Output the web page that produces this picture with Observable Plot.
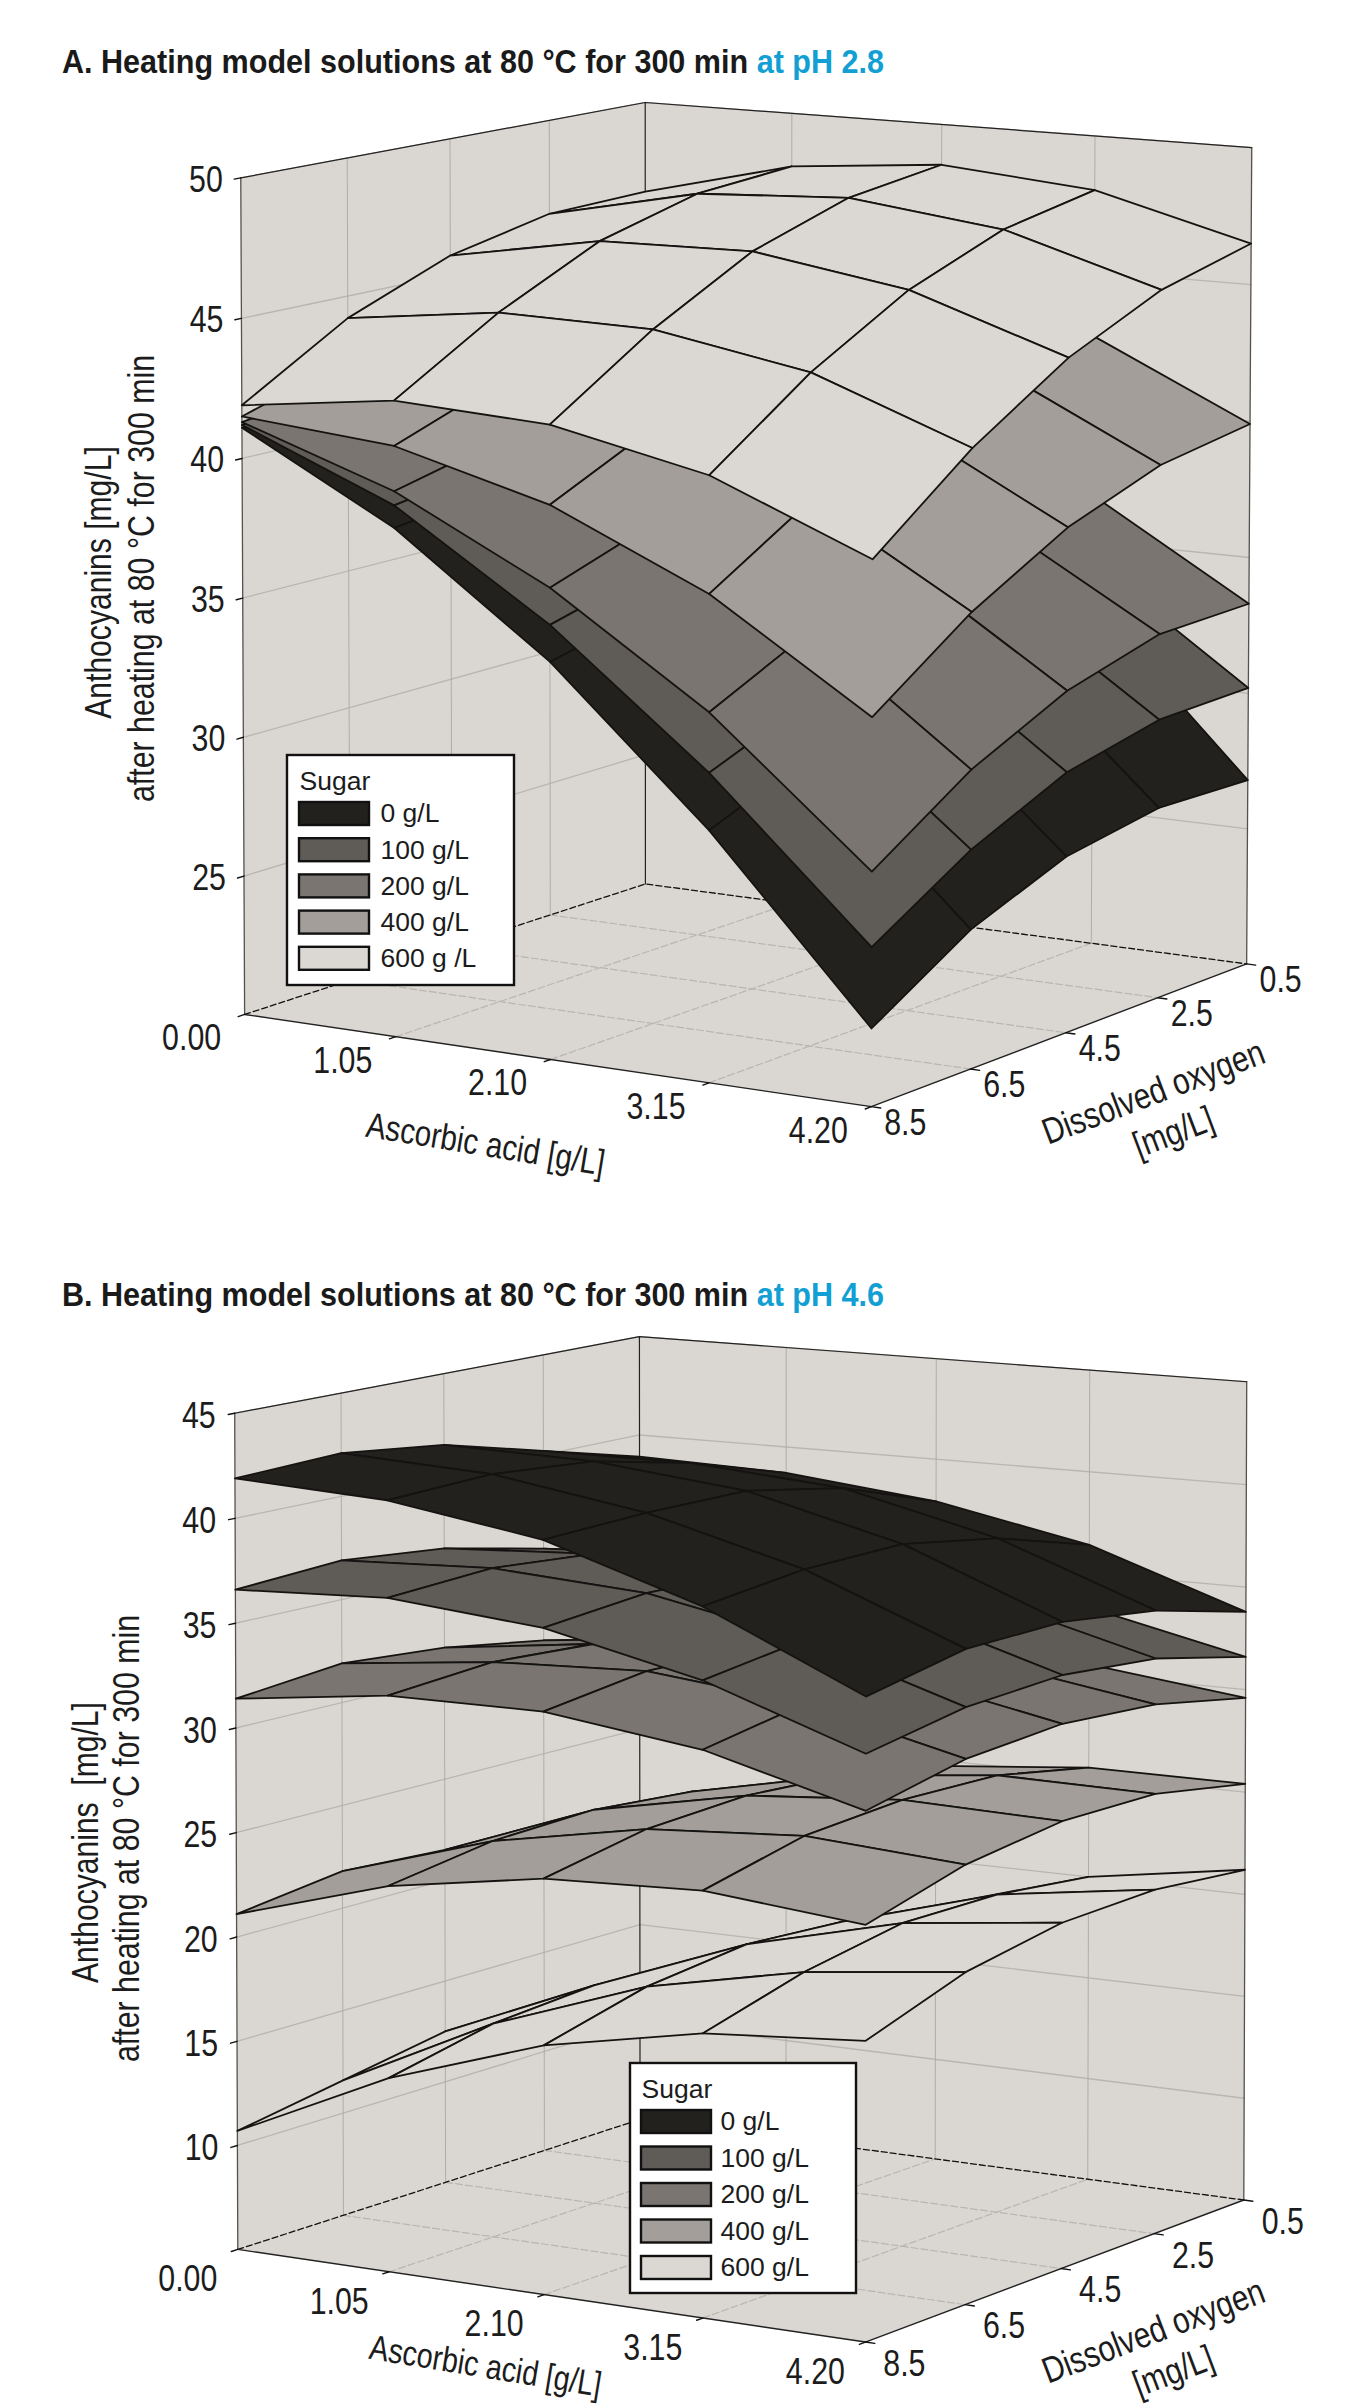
<!DOCTYPE html>
<html><head><meta charset="utf-8">
<script src="https://cdn.jsdelivr.net/npm/d3@7"></script>
<script src="https://cdn.jsdelivr.net/npm/@observablehq/plot@0.6"></script>
<style>
html,body{margin:0;padding:0;background:#fff;overflow:hidden}
#page{position:relative;width:1348px;height:2408px;overflow:hidden}
.title{position:absolute;left:62px;font:bold 34px "Liberation Sans",Arial,sans-serif;color:#1a1a1a;white-space:pre;transform-origin:0 50%}
.title span{color:#129fd3}
svg{position:absolute;left:0;display:block}
</style></head><body><div id="page"></div>
<script>
// axis values
const ascorbicTicks = [0, 1.05, 2.10, 3.15, 4.20];
const oxygenTicks = [8.5, 6.5, 4.5, 2.5, 0.5];
const sugarLabelsA = ["0 g/L", "100 g/L", "200 g/L", "400 g/L", "600 g /L"];
const sugarLabelsB = ["0 g/L", "100 g/L", "200 g/L", "400 g/L", "600 g/L"];
const sugarColors = ["#22211d", "#5f5b57", "#7a7570", "#a39e99", "#dbd7d2"];
const zTicksA = [25, 30, 35, 40, 45, 50];
const zTicksB = [10, 15, 20, 25, 30, 35, 40, 45];

// Surfaces: rows follow ascorbicTicks, columns follow oxygenTicks
const phA_0 = [
 [41.1,41.3,41.5,41.7,41.8],[38.1,38.6,39.0,39.3,39.4],[34.0,34.9,35.6,36.0,36.2],
 [28.8,30.3,31.4,32.2,32.6],[22.7,24.9,26.3,26.9,26.8]];
const phA_100 = [
 [41.2,41.5,41.8,42.0,42.1],[38.9,39.5,40.0,40.3,40.4],[35.3,36.3,37.1,37.5,37.7],
 [30.8,32.3,33.4,34.0,34.2],[25.5,27.7,29.3,30.1,30.2]];
const phA_200 = [
 [41.3,41.8,42.2,42.5,42.6],[39.4,40.3,41.0,41.4,41.6],[36.6,37.9,38.8,39.3,39.5],
 [32.9,34.7,35.9,36.5,36.7],[28.1,30.5,32.2,33.2,33.3]];
const phA_400 = [
 [41.5,42.7,43.6,44.2,44.4],[41.0,42.4,43.5,44.2,44.6],[39.5,41.3,42.7,43.6,44.0],
 [37.0,39.3,41.0,42.1,42.6],[33.4,36.0,38.0,39.3,39.9]];
const phA_600 = [
 [41.9,44.2,45.7,46.5,46.6],[42.6,44.9,46.7,47.7,48.0],[42.3,44.8,46.8,48.0,48.5],
 [41.1,43.8,45.9,47.3,48.0],[38.8,41.7,44.0,45.6,46.5]];

const phB_0 = [
 [41.9,42.1,41.5,40.2,38.9],[41.5,41.7,41.3,40.2,38.7],[40.3,40.5,40.5,39.6,37.9],
 [37.9,38.5,38.6,37.8,36.4],[34.5,35.5,35.6,35.0,33.8]];
const phB_100 = [
 [36.6,36.9,36.4,35.3,34.0],[36.9,37.2,36.8,35.7,34.2],[36.2,36.7,36.6,35.7,34.2],
 [34.5,35.2,35.4,34.7,33.3],[31.9,32.8,33.1,32.7,31.6]];
const phB_200 = [
 [31.4,31.9,31.5,30.7,29.6],[32.3,32.7,32.4,31.5,30.3],[32.3,33.0,32.9,32.1,30.8],
 [31.3,32.2,32.3,31.7,30.5],[29.3,30.4,30.8,30.5,29.6]];
const phB_400 = [
 [21.1,21.8,21.5,21.3,21.2],[23.3,24.1,24.3,23.9,23.0],[24.5,25.5,25.8,25.5,24.7],
 [24.8,26.0,26.4,26.3,25.4],[24.1,25.5,26.2,26.2,25.4]];
const phB_600 = [
 [10.7,11.6,12.5,12.3,12.0],[14.2,15.3,15.7,15.3,14.9],[16.7,18.0,18.6,18.3,17.7],
 [18.2,19.6,20.5,20.5,20.0],[18.8,20.5,21.4,21.6,21.2]];

// Camera calibration: where the corners of the data cube fall on the SVG
function solveCamera(anchors){
  const rows=[], rhs=[];
  for (const [u,v,w,x,y] of anchors){
    const X=x/1000, Y=y/1000;
    rows.push([u,v,w,1,0,0,0,0,-X*u,-X*v,-X*w]); rhs.push(X);
    rows.push([0,0,0,0,u,v,w,1,-Y*u,-Y*v,-Y*w]); rhs.push(Y);
  }
  const n=11, M=d3.range(n).map(i=>d3.range(n+1).map(j=>
    d3.sum(rows,(r,k)=>r[i]*(j<n?r[j]:rhs[k]))));
  for(let c=0;c<n;c++){
    let p=c; for(let r=c+1;r<n;r++) if(Math.abs(M[r][c])>Math.abs(M[p][c])) p=r;
    [M[c],M[p]]=[M[p],M[c]];
    for(let r=0;r<n;r++) if(r!==c){const f=M[r][c]/M[c][c]; for(let k=c;k<=n;k++) M[r][k]-=f*M[c][k];}
  }
  const h=M.map((r,i)=>r[n]/r[i]);
  return (u,v,w)=>{const d=h[8]*u+h[9]*v+h[10]*w+1;
    return [1000*(h[0]*u+h[1]*v+h[2]*w+h[3])/d, 1000*(h[4]*u+h[5]*v+h[6]*w+h[7])/d];};
}

function panel({top,height,titleTop,title,ph,surfaces,order,zTicks,zDomain,anchors,legend,labels}){
  const cam=solveCamera(anchors);
  const P=(a,o,z)=>cam(a/4.2,(8.5-o)/8,(z-zDomain[0])/(zDomain[1]-zDomain[0]));
  const [z0,z1]=zDomain, aL=0,aR=4.2,oF=8.5,oB=0.5;
  const seg=(pts,id)=>pts.map(p=>{const [x,y]=P(...p);return {x,y,id};});
  const lines=list=>list.flatMap((pts,i)=>seg(pts,i));
  const gridGray="#b9b5b0", wallGray="#b0aca7";
  const floorGrid=lines([
    ...ascorbicTicks.slice(1,4).map(a=>[[a,oF,z0],[a,oB,z0]]),
    ...oxygenTicks.slice(1,4).map(o=>[[aL,o,z0],[aR,o,z0]])]);
  const wallZ=lines(zTicks.map(z=>[[aL,oF,z],[aL,oB,z],[aR,oB,z]]));
  const wallV=lines([
    ...oxygenTicks.slice(1,4).map(o=>[[aL,o,z0],[aL,o,z1]]),
    ...ascorbicTicks.slice(1,4).map(a=>[[a,oB,z0],[a,oB,z1]])]);
  const edges=lines([[[aL,oF,z0],[aL,oF,z1]],[[aR,oB,z0],[aR,oB,z1]]]);
  const tops=lines([[[aL,oF,z1],[aL,oB,z1],[aR,oB,z1]],[[aL,oB,z0],[aL,oB,z1]]]);
  const backFloor=lines([[[aL,oF,z0],[aL,oB,z0],[aR,oB,z0]]]);
  const frontFloor=lines([[[aL,oF,z0],[aR,oF,z0],[aR,oB,z0]]]);
  const tickMarks=lines([
    ...ascorbicTicks.map(a=>[[a,oF,z0],[a,oF+0.12,z0]]),
    ...oxygenTicks.map(o=>[[aR,o,z0],[aR+0.06,o,z0]]),
    ...zTicks.map(z=>[[aL,oF,z],[aL,oF+0.12,z]])]);
  const wall=[
    seg([[aL,oF,z0],[aL,oB,z0],[aL,oB,z1],[aL,oF,z1]],"l"),
    seg([[aL,oB,z0],[aR,oB,z0],[aR,oB,z1],[aL,oB,z1]],"b"),
    seg([[aL,oF,z0],[aR,oF,z0],[aR,oB,z0],[aL,oB,z0]],"f")].flat();

  const sheets=order.map(k=>{
    const g=surfaces[k], verts=[];
    for(let i=0;i<4;i++) for(let j=3;j>=0;j--){
      const corners=[[i,j],[i+1,j],[i+1,j+1],[i,j+1],[i,j]];
      corners.forEach(([a,b])=>{const [x,y]=P(ascorbicTicks[a],oxygenTicks[b],g[a][b]);verts.push({x,y,id:i+"-"+j});});
    }
    return Plot.line(verts,{x:"x",y:"y",z:"id",fill:sugarColors[k],stroke:"#141311",strokeWidth:1.8,strokeLinejoin:"round",curve:"linear"});
  });

  const condensed="'Liberation Sans',Arial,sans-serif";
  const zLabels=zTicks.map(z=>{const [x,y]=P(aL,oF,z);return {x:x+labels.zdx,y:y+labels.zdy,t:String(z)};});
  const aLabels=ascorbicTicks.map(a=>{const [x,y]=P(a,oF,z0);return {x:x+labels.adx,y:y+labels.ady,t:a.toFixed(2)};});
  const oLabels=oxygenTicks.map(o=>{const [x,y]=P(aR,o,z0);return {x:x+labels.odx,y:y+labels.ody,t:o.toFixed(1)};});
  const tx=(d,opts)=>Plot.text(d,{x:"x",y:"y",text:"t",fontFamily:condensed,fill:"#1c1c1c",lineAnchor:"middle",...opts});

  const L=legend, rows=L.labels.map((t,i)=>({t,c:sugarColors[i],y1:L.y+i*L.step,y2:L.y+i*L.step+L.h}));
  const plot=Plot.plot({width:1348,height,margin:0,style:{background:"transparent",overflow:"visible"},
    x:{type:"identity",axis:null},y:{type:"identity",axis:null},color:{type:"identity"},
    marks:[
      Plot.line(wall,{x:"x",y:"y",z:"id",fill:"#dad6d1",stroke:"#dad6d1",strokeWidth:0.5}),
      Plot.line(floorGrid,{x:"x",y:"y",z:"id",stroke:gridGray,strokeWidth:1.2,strokeDasharray:"7 3"}),
      Plot.line(wallZ,{x:"x",y:"y",z:"id",stroke:gridGray,strokeWidth:1.3}),
      Plot.line(wallV,{x:"x",y:"y",z:"id",stroke:wallGray,strokeWidth:1}),
      Plot.line(edges,{x:"x",y:"y",z:"id",stroke:"#55524e",strokeWidth:1.3}),
      Plot.line(backFloor,{x:"x",y:"y",z:"id",stroke:"#111",strokeWidth:1.3,strokeDasharray:"6 3"}),
      Plot.line(tops,{x:"x",y:"y",z:"id",stroke:"#222",strokeWidth:1.2}),
      Plot.line(frontFloor,{x:"x",y:"y",z:"id",stroke:"#222",strokeWidth:1.4}),
      Plot.line(tickMarks,{x:"x",y:"y",z:"id",stroke:"#111",strokeWidth:1.4}),
      ...sheets,
      tx(zLabels,{fontSize:37,textAnchor:"end"}),
      tx(aLabels,{fontSize:37,textAnchor:"middle"}),
      tx(oLabels,{fontSize:37,textAnchor:"middle"}),
      ...labels.titles.map(s=>tx([{x:s.x,y:s.y,t:s.t}],{fontSize:s.fs,rotate:s.r,textAnchor:"middle"})),
      Plot.rect([L],{x1:"x",x2:d=>d.x+L.w,y1:"top",y2:d=>d.top+L.boxH,fill:"#fff",stroke:"#111",strokeWidth:2.4}),
      Plot.rect(rows,{x1:L.sx,x2:L.sx+70,y1:"y1",y2:"y2",fill:"c",stroke:"#111",strokeWidth:2.4}),
      tx(rows.map(r=>({x:L.tx,y:(r.y1+r.y2)/2,t:r.t})),{fontSize:26.5,fontFamily:"Liberation Sans",textAnchor:"start"}),
      tx([{x:L.sx,y:L.y-21,t:"Sugar"}],{fontSize:26.5,fontFamily:"Liberation Sans",textAnchor:"start"})
    ]});
  // Axis texts in the reference are condensed along their baseline
  plot.querySelectorAll('g[font-family*="Arial"] text').forEach(t=>{
    t.setAttribute("transform",(t.getAttribute("transform")||"")+" scale(0.82,1)");
  });
  plot.style.top=top+"px";
  const page=document.getElementById("page");
  const h=document.createElement("div");h.className="title";h.style.top=titleTop+"px";
  h.textContent=title+" ";const s=document.createElement("span");s.textContent=ph;h.appendChild(s);
  page.appendChild(h);page.appendChild(plot);
  h.style.transform=`scaleX(${822/h.getBoundingClientRect().width})`;
}

const corner=(u,v,w,x,y)=>[u,v,w,x,y];
const TA=90, TB=1325;
panel({top:TA,height:1145,titleTop:42,title:"A. Heating model solutions at 80 °C for 300 min",ph:"at pH 2.8",
  surfaces:[phA_0,phA_100,phA_200,phA_400,phA_600],order:[0,1,2,3,4],zTicks:zTicksA,zDomain:[20,50],
  anchors:[corner(0,0,1,240,180-TA),corner(0,1,1,645,100-TA),corner(1,1,1,1251,149-TA),corner(1,0,1,873,227-TA),
           corner(0,0,0,244,1014-TA),corner(1,0,0,871,1106-TA),corner(1,1,0,1246,964-TA),corner(0,1,0,645,883-TA)],
  legend:{x:287,top:755-TA,w:227,boxH:230,sx:299,tx:380,y:802-TA,step:36.2,h:23,labels:sugarLabelsA},
  labels:{zdx:-18,zdy:2,adx:-53,ady:24,odx:34,ody:16,titles:[
    {t:"Ascorbic acid [g/L]",x:485,y:1144-TA,r:9.3,fs:36},
    {t:"Dissolved oxygen",x:1153,y:1092-TA,r:-20.7,fs:36.5},
    {t:"[mg/L]",x:1173,y:1132-TA,r:-20.7,fs:36.5},
    {t:"Anthocyanins [mg/L]",x:99,y:582-TA,r:-90,fs:36.7},
    {t:"after heating at 80 °C for 300 min",x:142,y:578-TA,r:-90,fs:37}]}
});
panel({top:TB,height:1083,titleTop:1275,title:"B. Heating model solutions at 80 °C for 300 min",ph:"at pH 4.6",
  surfaces:[phB_0,phB_100,phB_200,phB_400,phB_600],order:[4,3,2,1,0],zTicks:zTicksB,zDomain:[5,45],
  anchors:[corner(0,0,1,234,1415-TB),corner(0,1,1,639,1334-TB),corner(1,1,1,1246,1384-TB),corner(1,0,1,866,1462-TB),
           corner(0,0,0,238,2249-TB),corner(1,0,0,864,2342-TB),corner(1,1,0,1244,2199-TB),corner(0,1,0,639,2119-TB)],
  legend:{x:630,top:2063-TB,w:226,boxH:230,sx:641,tx:720,y:2110-TB,step:36.5,h:23,labels:sugarLabelsB},
  labels:{zdx:-19,zdy:3,adx:-50,ady:30,odx:39,ody:22,titles:[
    {t:"Ascorbic acid [g/L]",x:485,y:2366-TB,r:9.3,fs:35},
    {t:"Dissolved oxygen",x:1153,y:2331-TB,r:-20.7,fs:36.5},
    {t:"[mg/L]",x:1173,y:2371-TB,r:-20.7,fs:36.5},
    {t:"Anthocyanins  [mg/L]",x:86,y:1842-TB,r:-90,fs:36.7},
    {t:"after heating at 80 °C for 300 min",x:127,y:1838-TB,r:-90,fs:37}]}
});
</script></body></html>
